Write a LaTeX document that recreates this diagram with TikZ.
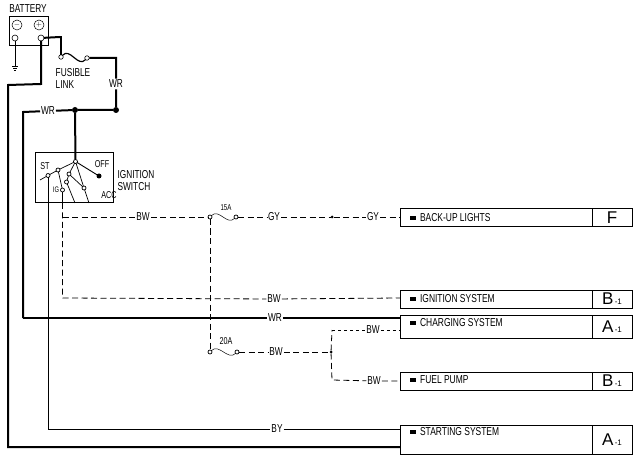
\documentclass[tikz,border=0pt]{standalone}
\usepackage{fontspec}
\setmainfont{Liberation Sans}
\usetikzlibrary{positioning}
\tikzset{
x=1pt,
y=-1pt,
every node/.style={outer sep=0pt},
thickw/.style={line width=2pt},
thinw/.style={line width=0.5pt},
dashw/.style={line width=0.8pt, dash pattern=on 6pt off 3.5pt},
dotw/.style={line width=0.5pt, dash pattern=on 3pt off 3pt},
box/.style={draw, line width=1pt},
txt/.style={font=\fontsize{11.5}{12}\selectfont, xscale=0.72, transform shape, inner sep=1.5pt, align=left},
swt/.style={txt, font=\fontsize{10}{10}\selectfont},
sys/.style={txt, anchor=west, xscale=1.02},
bul/.style={fill, inner sep=0pt, minimum width=6pt, minimum height=4.5pt},
sysbox/.style={box, anchor=north west, minimum width=192pt, minimum height=#1},
letbox/.style={box, minimum width=40pt, minimum height=#1, inner sep=0pt, font=\fontsize{17}{17}\selectfont},
term/.style={circle, draw, fill=white, line width=0.6pt, inner sep=0pt, minimum size=4.5pt},
cont/.style={circle, draw, fill=white, line width=0.7pt, inner sep=0pt, minimum size=4pt},
dot/.style={circle, fill, inner sep=0pt, minimum size=#1},
dot/.default=6pt,
}
\newcommand{\subone}{{\fontsize{8}{8}\selectfont\,-1}}

\begin{document}
\begin{tikzpicture}
    \useasboundingbox (0,0) rectangle (639,462);
    % battery
    \node[txt] (batlbl) at (28,9) {BATTERY};
    \node[box, anchor=north west, minimum width=39pt, minimum height=29pt] (bat) at (9,17) {};
    \node[circle, draw, thinw, minimum size=10pt, inner sep=0pt, font=\fontsize{7}{7}\selectfont] (minus) at (17,25) {$-$};
    \node[circle, draw, thinw, minimum size=10pt, inner sep=0pt, font=\fontsize{7}{7}\selectfont] (plus) at (39,25) {$+$};
    \node[term, minimum size=6pt] (tneg) at (15,38) {};
    \node[term, minimum size=6pt] (tpos) at (41,38) {};
    \coordinate (gnd) at (15,66);
    \draw[line width=0.8pt] (tneg) -- (gnd);
    \draw[line width=0.8pt] (12,66) -- (18,66) (13,68) -- (17,68) (14,70) -- (16,70);
    % fusible link
    \coordinate (lk1) at (60,37);
    \node[term] (fl1) at (61,57) {};
    \node[term] (fl2) at (87,58) {};
    \node[txt] (fllbl) at (73,78) {FUSIBLE\\LINK};
    \coordinate (c1) at (116,58);
    \node[dot] (j1) at (116,110) {};
    \node[dot] (j2) at (75,110) {};
    \node[txt] (wr1) at (116,84) {WR};
    \node[txt] (wr2) at (48,111) {WR};
    \coordinate (c2) at (23,112);
    \coordinate (c3) at (23,318);
    \coordinate (cs1) at (400,318);
    \coordinate (c4) at (41,84);
    \coordinate (c5) at (8,85);
    \coordinate (c6) at (8,447);
    \coordinate (ss1) at (400,447);
    \draw[line width=1.2pt] (fl1) .. controls +(9,-10) and +(-9,10) .. (fl2);
    \draw[thickw] (tpos) -- (lk1);
    \draw[line width=1.3pt] (lk1) -| (fl1);
    \draw[thickw] (fl2) -- (c1) -- (wr1) -- (j1) -- (j2) -- (wr2);
    \draw[thickw] (wr2) -- (c2) -- (c3);
    \draw[thickw] (tpos) -- (c4) -- (c5) -- (c6) -- (ss1);
    % ignition switch
    \node[box, anchor=north west, minimum width=78pt, minimum height=50pt] (sw) at (35,153) {};
    \node[txt] (swlbl) at (136,181) {IGNITION\\SWITCH};
    \node[swt] (off) at (102,164) {OFF};
    \node[swt] (st) at (45,166) {ST};
    \node[swt, font=\fontsize{8}{8}\selectfont] (ig) at (56,190) {IG};
    \node[swt] (acc) at (109,195) {ACC};
    \node[cont] (piv) at (75.5,161.5) {};
    \node[dot=5pt] (offd) at (99,176) {};
    \node[cont] (cst) at (48,175.5) {};
    \node[cont] (carm) at (58,170) {};
    \node[cont] (c7) at (69,174) {};
    \node[cont] (c8) at (66.5,182) {};
    \node[cont] (cig) at (62.5,190) {};
    \node[cont] (cacc) at (84,188) {};
    \coordinate (stt) at (40,180);
    \coordinate (o1) at (48,203);
    \coordinate (o2) at (62.5,203);
    \coordinate (o3) at (75,203);
    \coordinate (o4) at (89,203);
    \draw[thickw] (j2) -- (piv);
    \draw[line width=0.9pt] (piv) -- (offd);
    \draw[line width=0.7pt] (piv) -- (carm) -- (cig);
    \draw[line width=0.7pt] (piv) -- (c7) -- (c8) -- (o3);
    \draw[line width=0.7pt] (piv) -- (cacc) -- (o4);
    \draw[line width=0.7pt] (c7) -- (cacc);
    \draw[line width=0.7pt] (stt) -- (cst) -- (carm);
    \draw[line width=0.7pt] (cst) -- (o1);
    \draw[line width=0.7pt] (cig) -- (o2);
    % system boxes
    \node[sysbox=18pt] (blb) at (400,209) {};
    \node[letbox=18pt, right=0pt of blb] (blf) {F};
    \node[sysbox=18pt] (isb) at (400,290) {};
    \node[letbox=18pt, right=0pt of isb] (isf) {B\subone};
    \node[sysbox=23pt] (csb) at (400,315) {};
    \node[letbox=23pt, right=0pt of csb] (csf) {A\subone};
    \node[sysbox=18pt] (fpb) at (400,372) {};
    \node[letbox=18pt, right=0pt of fpb] (fpf) {B\subone};
    \node[sysbox=29pt] (ssb) at (400,425) {};
    \node[letbox=29pt, right=0pt of ssb] (ssf) {A\subone};
    \node[bul] (b1) at (413,218) {};
    \node[sys, right=3pt of b1] (blt) {BACK-UP LIGHTS};
    \node[bul] (b2) at (413,299) {};
    \node[sys, right=3pt of b2] (ist) {IGNITION SYSTEM};
    \node[bul] (b3) at (413,323) {};
    \node[sys, right=3pt of b3] (cst2) {CHARGING SYSTEM};
    \node[bul] (b4) at (413,380) {};
    \node[sys, right=3pt of b4] (fpt) {FUEL PUMP};
    \node[bul] (b5) at (413,432) {};
    \node[sys, right=3pt of b5] (sst) {STARTING SYSTEM};
    % back-up lights line
    \coordinate (n1) at (62.5,217);
    \node[txt] (bw1) at (143,217) {BW};
    \node[cont] (f1a) at (210,217) {};
    \node[cont] (f1b) at (236,217) {};
    \node[txt, font=\fontsize{8.5}{9}\selectfont] (a15) at (226,208) {15A};
    \node[txt] (gy1) at (274,217) {GY};
    \node[dot=3pt] (j3) at (332,217) {};
    \node[txt] (gy2) at (373,217) {GY};
    \coordinate (blw) at (400,217);
    \draw[dashw] (n1) -- (bw1) -- (f1a);
    \draw[thinw] (f1a) .. controls +(9,-9) and +(-9,9) .. (f1b);
    \draw[dashw] (f1b) -- (gy1) -- (j3) -- (gy2) -- (blw);
    % ignition system line
    \coordinate (n2) at (62.5,298);
    \node[txt] (bw2) at (274,299) {BW};
    \coordinate (isw) at (400,298);
    \draw[dashw] (o2) -- (n1) -- (n2) -- (bw2) -- (isw);
    % charging line
    \node[txt] (wr3) at (275,318) {WR};
    \draw[thickw] (c3) -- (wr3) -- (cs1);
    % 20A fuse and branch
    \node[cont] (f2a) at (210,352) {};
    \node[cont] (f2b) at (237,352) {};
    \node[txt, font=\fontsize{10}{10}\selectfont] (a20) at (226,341) {20A};
    \node[txt] (bw3) at (276,352) {BW};
    \node[dot=3pt] (j4) at (331,352) {};
    \coordinate (u1) at (332,330);
    \coordinate (u2) at (332,380);
    \node[txt] (bw4) at (373,330) {BW};
    \node[txt] (bw5) at (374,381) {BW};
    \coordinate (csw) at (400,330);
    \coordinate (fpw) at (400,381);
    \draw[dashw] (f1a) -- (f2a);
    \draw[thinw] (f2a) .. controls +(9,-9) and +(-9,9) .. (f2b);
    \draw[dashw] (f2b) -- (bw3) -- (j4);
    \draw[dashw] (j4) -- (u2) -- (bw5) -- (fpw);
    \draw[dashw] (j4) -- (u1);
    \draw[dotw] (u1) -- (bw4) -- (csw);
    % starting line
    \coordinate (n3) at (48,429);
    \node[txt] (by) at (277,429) {BY};
    \coordinate (ssw) at (400,429);
    \draw[thinw] (o1) -- (n3) -- (by) -- (ssw);
\end{tikzpicture}
\end{document}
